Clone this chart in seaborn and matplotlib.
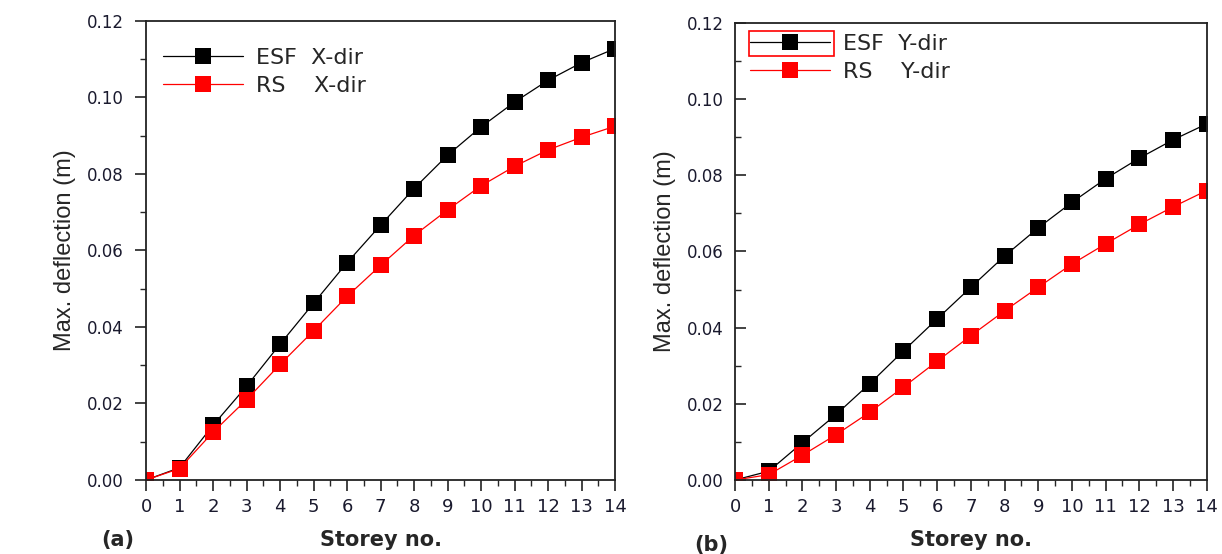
import numpy as np
import pandas as pd
import matplotlib
matplotlib.use("Agg")
import matplotlib.pyplot as plt
from matplotlib.patches import Rectangle
from matplotlib.ticker import MultipleLocator
import seaborn as sns

# storeys
storey = list(range(15))

# panel (a): X direction
esf_x = [0.0, 0.0032, 0.0143, 0.0245, 0.0355, 0.0462, 0.0568, 0.0666,
         0.0762, 0.0849, 0.0923, 0.0988, 0.1045, 0.1091, 0.1128]
rs_x = [0.0, 0.0030, 0.0125, 0.0210, 0.0302, 0.0390, 0.0480, 0.0561,
        0.0639, 0.0706, 0.0769, 0.0820, 0.0863, 0.0896, 0.0925]

# panel (b): Y direction
esf_y = [0.0, 0.0023, 0.0098, 0.0172, 0.0253, 0.0339, 0.0423, 0.0506,
         0.0588, 0.0662, 0.0729, 0.0791, 0.0845, 0.0893, 0.0935]
rs_y = [0.0, 0.0014, 0.0065, 0.0119, 0.0178, 0.0244, 0.0312, 0.0379,
        0.0444, 0.0506, 0.0567, 0.0620, 0.0671, 0.0717, 0.0760]

sns.set_theme(style="ticks")
plt.rcParams["font.family"] = ["DejaVu Sans"]

fig = plt.figure(figsize=(12.22, 5.54), dpi=100)
ax_a = fig.add_axes([0.1195, 0.1336, 0.3838, 0.8285])
ax_b = fig.add_axes([0.6015, 0.1336, 0.3860, 0.8250])


def draw(ax, esf, rs, d, inward, legpos):
    df = pd.DataFrame({
        "storey": storey * 2,
        "defl": esf + rs,
        "case": [f"ESF  {d}-dir"] * 15 + [f"RS    {d}-dir"] * 15,
    })
    sns.lineplot(data=df, x="storey", y="defl", hue="case",
                 palette=["black", "red"], marker="s", markersize=11,
                 markeredgewidth=0, linewidth=0.9, ax=ax)
    ax.set_xlim(0, 14)
    ax.set_ylim(0, 0.12)
    ax.xaxis.set_major_locator(MultipleLocator(1))
    ax.xaxis.set_minor_locator(MultipleLocator(0.5))
    ax.yaxis.set_major_locator(MultipleLocator(0.02))
    ax.yaxis.set_minor_locator(MultipleLocator(0.01))
    ax.yaxis.set_major_formatter(matplotlib.ticker.FormatStrFormatter("%.2f"))
    for s in ax.spines.values():
        s.set_visible(True)
        s.set_linewidth(1.3)
        s.set_color("#222222")
    ydir = "in" if inward else "out"
    ax.tick_params(axis="y", which="major", direction=ydir, length=8, width=1.2,
                   labelsize=12, pad=8, colors="#222222")
    ax.tick_params(axis="y", which="minor", direction=ydir, length=4, width=1.0)
    ax.tick_params(axis="x", which="major", direction="out", length=8, width=1.2,
                   labelsize=13, pad=5, colors="#222222")
    ax.tick_params(axis="x", which="minor", direction="out", length=4, width=1.0)
    for lab in ax.get_xticklabels() + ax.get_yticklabels():
        lab.set_color("#1a1a2e")
    ax.set_xlabel("Storey no.", fontsize=15, fontweight="bold", labelpad=10)
    ax.set_ylabel("Max. deflection (m)", fontsize=17,
                  family=["Liberation Sans", "DejaVu Sans"], labelpad=8)
    leg = ax.legend(loc="upper left", bbox_to_anchor=legpos, frameon=False,
                    fontsize=16, handlelength=3.6, handletextpad=0.6,
                    labelspacing=0.35, borderaxespad=0)
    return leg


draw(ax_a, esf_x, rs_x, "X", inward=False, legpos=(0.017, 0.961))
draw(ax_b, esf_y, rs_y, "Y", inward=True, legpos=(0.013, 0.995))

# red box round the first legend handle in panel (b)
ax_b.add_patch(Rectangle((0.03, 0.928), 0.18, 0.055, transform=ax_b.transAxes,
                         fill=False, edgecolor="red", linewidth=1.2, clip_on=False))

fig.text(0.083, 0.015, "(a)", fontsize=15, fontweight="bold")
fig.text(0.568, 0.006, "(b)", fontsize=15, fontweight="bold")

fig.savefig("out.png", dpi=100)
